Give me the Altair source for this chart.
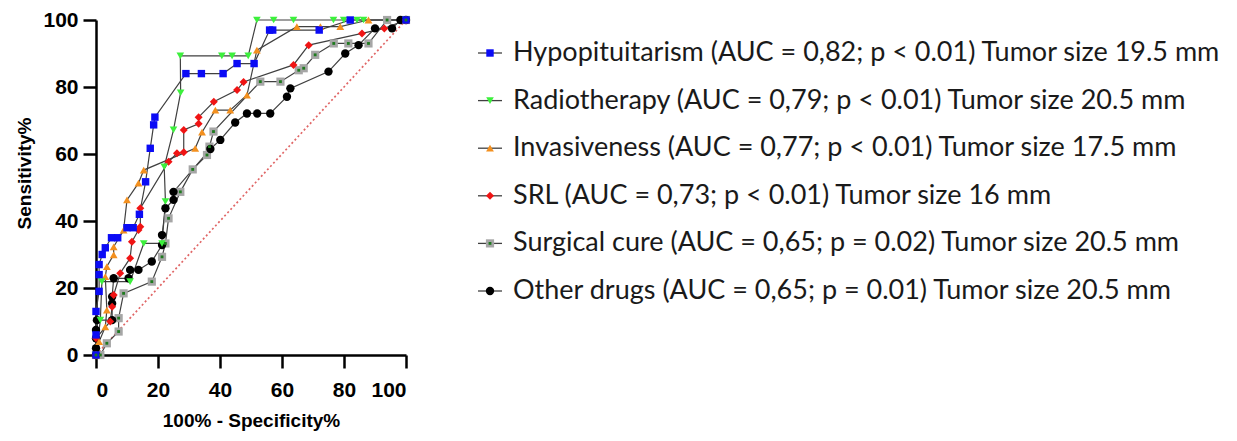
import altair as alt
import pandas as pd

# ---------------- data ----------------
series = ["Hypopituitarism", "Radiotherapy", "Invasiveness", "SRL", "Surgical cure", "Other drugs"]
labels = [
    "Hypopituitarism (AUC = 0,82; p < 0.01) Tumor size 19.5 mm",
    "Radiotherapy (AUC = 0,79; p < 0.01) Tumor size 20.5 mm",
    "Invasiveness (AUC = 0,77; p < 0.01) Tumor size 17.5 mm",
    "SRL (AUC = 0,73; p < 0.01) Tumor size 16 mm",
    "Surgical cure (AUC = 0,65; p = 0.02) Tumor size 20.5 mm",
    "Other drugs (AUC = 0,65; p = 0.01) Tumor size 20.5 mm",
]

hypo_x = [0, 0, 0, 1, 1, 1, 2, 3, 5, 7, 10, 12, 14, 16, 17.5, 18.6, 19, 29, 34, 41, 45.5, 51, 56, 57, 72, 82, 100]
hypo_y = [0, 6, 13, 19, 24, 27, 30, 32, 35, 35, 38, 38, 42, 51.7, 61.7, 68.7, 71, 84, 84, 84, 87, 87, 97, 97, 97, 100, 100]

radio_x = [0, 1.4, 1.9, 11, 15.4, 21.3, 22.4, 22, 25, 27.3, 27.2, 40.6, 43.9, 49.1, 51.9, 57.3, 63.7, 76.6, 79.9, 84.2, 86.3, 100]
radio_y = [0, 10.4, 21.9, 21.9, 33.3, 33.3, 45.8, 56.2, 67.2, 78.3, 89.3, 89.3, 89.3, 89.3, 100, 100, 100, 100, 100, 100, 100, 100]

inv_x = [0, 1, 3, 3.5, 3, 3.5, 5.7, 5.7, 8.9, 10, 13.7, 15.4, 32, 34.2, 38.5, 43.3, 48.7, 51.9, 64.8, 72.4, 78.8, 87.9, 100]
inv_y = [0, 4, 8.4, 13.4, 23.4, 26.4, 29.9, 32.3, 37.3, 46.3, 51.3, 55.2, 61.7, 66.5, 73.1, 73.1, 77.6, 91, 98, 98, 98, 100, 100]

srl_x = [0, 0, 4.6, 5.2, 5.7, 7.8, 11, 11.6, 13.7, 14.3, 14.3, 23.4, 26.1, 28.3, 28.3, 33.1, 33.1, 38, 45.5, 47.6, 63.7, 68.6, 85.8, 93, 100]
srl_y = [0, 5, 10, 14.4, 17.9, 24.4, 28.9, 33.8, 37.3, 38.3, 43.8, 57.7, 60.2, 60.5, 67.2, 69, 71, 75.6, 79.1, 81.5, 86.6, 92.5, 96, 97.5, 100]

surg_x = [0, 1.4, 3.5, 7.3, 7.3, 8.9, 18, 21.3, 22.4, 23.4, 27.2, 31.2, 35.8, 36.6, 37.9, 53, 59.5, 65.4, 67, 70.7, 76.7, 81.4, 87.9, 93.9, 100]
surg_y = [0, 0, 3.5, 7, 11, 18.4, 21.9, 29.3, 33.3, 40.8, 48.7, 55.4, 59.7, 62.2, 66.7, 81.6, 81.6, 85, 85.6, 89.6, 93, 93, 93, 100, 100]

other_x = [0, 0, 0, 0, 0.3, 5.2, 5.2, 5.2, 5.7, 10.5, 11, 13.7, 18, 21.3, 21.3, 22.4, 25, 25, 36.9, 40.1, 44.9, 48.7, 52, 56.2, 61.6, 62.7, 75, 80.4, 84.7, 90, 95.5, 98.2, 100]
other_y = [0, 2, 5, 7.5, 10.4, 10.4, 15.4, 17.4, 22.9, 22.9, 25.4, 25.4, 27.9, 32.8, 35.8, 43.8, 46.3, 48.7, 61.5, 64.2, 69.4, 72.1, 72.1, 72.1, 77.1, 79.6, 84.6, 90, 92.5, 97.5, 97.5, 100, 100]

diag_x = [0, 100]
diag_y = [0, 100]

colors = ["#0b0bf5", "#3cf03c", "#f3901f", "#f01414", "#a6a6a6", "#000000"]
shapes = ["square", "triangle-down", "triangle-up", "diamond", "square", "circle"]
sizes = [55, 70, 65, 50, 100, 64]

# ---------------- tables ----------------
xs = [hypo_x, radio_x, inv_x, srl_x, surg_x, other_x]
ys = [hypo_y, radio_y, inv_y, srl_y, surg_y, other_y]
draw_order = [4, 5, 3, 2, 1, 0]
rows = []
for k in draw_order:
    for i, (a, b) in enumerate(zip(xs[k], ys[k])):
        rows.append({"series": series[k], "x": a, "y": b, "idx": i})
df = pd.DataFrame(rows)
diag = pd.DataFrame({"x": diag_x, "y": diag_y})
leg = pd.DataFrame({"series": series, "label": labels})

W, H = 310, 335
FONT = "Liberation Sans"

col = alt.Color("series:N", scale=alt.Scale(domain=series, range=colors), legend=None)
shp = alt.Shape("series:N", scale=alt.Scale(domain=series, range=shapes), legend=None)
siz = alt.Size("series:N", scale=alt.Scale(domain=series, range=sizes), legend=None)

xenc = alt.X("x:Q", scale=alt.Scale(domain=[0, 100], nice=False),
             axis=alt.Axis(values=[0, 20, 40, 60, 80, 100], title="100% - Specificity%",
                           titlePadding=11))
yenc = alt.Y("y:Q", scale=alt.Scale(domain=[0, 100], nice=False),
             axis=alt.Axis(values=[0, 20, 40, 60, 80, 100], title="Sensitivity%",
                           titlePadding=8, titleY=153))

diag_layer = alt.Chart(diag).mark_line(color="#e06666", strokeWidth=1.7, strokeDash=[2, 2.5]).encode(
    x=xenc, y=yenc)

lines = alt.Chart(df).mark_line(color="#404040", strokeWidth=1.2).encode(
    x=xenc, y=yenc, detail="series:N", order="idx:Q")

pts = alt.Chart(df).mark_point(filled=True, opacity=1).encode(
    x=xenc, y=yenc, color=col, shape=shp, size=siz)

dots = alt.Chart(df).transform_filter(alt.datum.series == "Surgical cure").mark_point(
    filled=True, opacity=1, color="#1f7a1f", size=8, shape="square").encode(x=xenc, y=yenc)

plot = alt.layer(diag_layer, lines, pts, dots)

ly = alt.Y("series:N", sort=series, axis=None,
           scale=alt.Scale(type="point", domain=series, range=[33, 271], padding=0))

leg_rule = alt.Chart(leg).mark_rule(color="#404040", strokeWidth=1.3).encode(
    x=alt.value(382), x2=alt.value(406), y=ly)
leg_pts = alt.Chart(leg).mark_point(filled=True, opacity=1).encode(
    x=alt.value(394), y=ly, color=col, shape=shp, size=siz)
leg_dot = alt.Chart(leg).transform_filter(alt.datum.series == "Surgical cure").mark_point(
    filled=True, opacity=1, color="#1f7a1f", size=8, shape="square").encode(x=alt.value(394), y=ly)
leg_txt = alt.Chart(leg).mark_text(align="left", baseline="middle", font="Lato", fontSize=27,
                                   color="#1a1a1a").encode(
    x=alt.value(417), y=ly, text="label:N")

legend = alt.layer(leg_rule, leg_pts, leg_dot, leg_txt)

chart = alt.layer(plot, legend).resolve_scale(
    y="independent"
).properties(
    width=W, height=H,
    autosize=alt.AutoSizeParams(type="none"),
    padding={"left": 88, "top": 12, "right": 815, "bottom": 78},
).configure_view(stroke=None).configure_axis(
    grid=False, domainColor="black", domainWidth=2.5, tickColor="black", tickWidth=2.5,
    tickSize=13, labelFont=FONT, labelFontWeight="bold", labelFontSize=21, labelColor="black",
    titleFont=FONT, titleFontWeight="bold", titleFontSize=19, titleColor="black",
).configure_axisX(labelPadding=11).configure_axisY(labelPadding=5)

chart.save("out.html", embed_options={"renderer": "svg", "actions": False})
